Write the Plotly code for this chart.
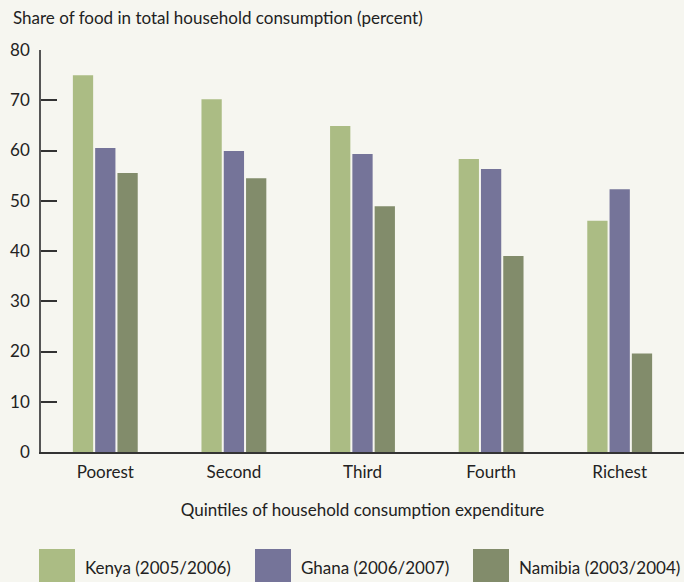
import plotly.graph_objects as go

categories = ["Poorest", "Second", "Third", "Fourth", "Richest"]
series_names = ["Kenya (2005/2006)", "Ghana (2006/2007)", "Namibia (2003/2004)"]
kenya = [75.0, 70.2, 64.9, 58.3, 46.0]
ghana = [60.5, 59.9, 59.3, 56.3, 52.3]
namibia = [55.5, 54.5, 48.9, 39.0, 19.6]
colors = ["#abbc84", "#757499", "#828c6b"]
y_ticks = [0, 10, 20, 30, 40, 50, 60, 70, 80]

FONT = "Lato, Roboto, sans-serif"
FS = 17
BG = "#f6f6f0"
TXT = "#222"

fig = go.Figure()
for name, vals, col in zip(series_names, [kenya, ghana, namibia], colors):
    fig.add_trace(go.Bar(x=categories, y=vals, name=name, marker_color=col,
                         marker_line_width=0, showlegend=False))

# custom legend with large swatches
leg_x = [39, 255, 473]
for name, col, lx in zip(series_names, colors, leg_x):
    fig.add_shape(type="rect", xref="paper", yref="paper",
                  x0=(lx - 41) / 643, x1=(lx + 36 - 41) / 643,
                  y0=-134 / 402, y1=-97 / 402,
                  fillcolor=col, line_width=0)
    fig.add_annotation(xref="paper", yref="paper", x=(lx + 44 - 41) / 643,
                       y=-115 / 402, text=name, showarrow=False,
                       xanchor="left", yanchor="middle",
                       font=dict(family=FONT, size=FS, color=TXT))

fig.add_annotation(xref="paper", yref="paper", x=-30 / 643, y=1 + 32 / 402,
                   text="Share of food in total household consumption (percent)",
                   showarrow=False, xanchor="left", yanchor="middle",
                   font=dict(family=FONT, size=FS, color=TXT))

fig.update_layout(
    width=684, height=582,
    margin=dict(l=41, r=0, t=50, b=130),
    paper_bgcolor=BG, plot_bgcolor=BG,
    barmode="group", bargap=0.48, bargroupgap=0.09,
    font=dict(family=FONT, size=FS, color=TXT),
    xaxis=dict(showgrid=False, showline=True, linecolor="#333", linewidth=2,
               ticks="", range=[-0.5, 4.5], ticklabelstandoff=4,
               title=dict(text="Quintiles of household consumption expenditure",
                          font=dict(family=FONT, size=FS, color=TXT), standoff=23),
               tickfont=dict(family=FONT, size=FS, color=TXT)),
    yaxis=dict(range=[0, 80], tickvals=y_ticks, showgrid=False, zeroline=False,
               showline=True, linecolor="#555", linewidth=1.5,
               ticks="inside", ticklen=16, tickcolor="#333", tickwidth=1.5,
               ticklabelstandoff=6,
               tickfont=dict(family=FONT, size=FS, color=TXT)),
)

fig.write_html("out.html", config={"displayModeBar": False},
               post_script="document.body.style.margin='0';")
